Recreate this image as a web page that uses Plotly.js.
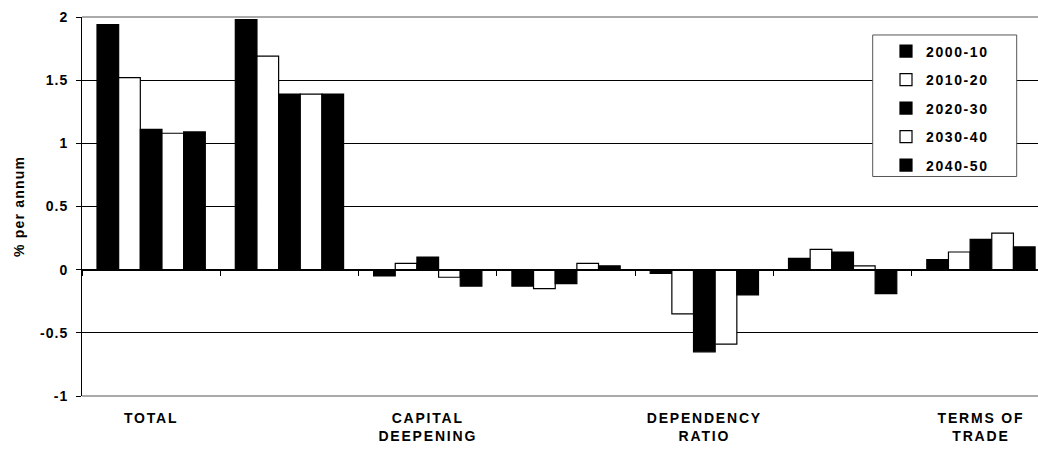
<!DOCTYPE html>
<html>
<head>
<meta charset="utf-8">
<script src="https://cdn.plot.ly/plotly-3.0.1.min.js"></script>
<style>
  html, body { margin: 0; padding: 0; background: #fff; }
  #chart { width: 1038px; height: 450px; }
  .xtick text { letter-spacing: 1.8px; }
  .ytick text { letter-spacing: 1px; }
  .ytitle { letter-spacing: 1.2px; }
  .legendtext { letter-spacing: 1.6px; }
</style>
</head>
<body>
<div id="chart"></div>
<script>
// Category positions along the x axis and the labels shown under them
const categoryPos = [0, 1, 2, 3, 4, 5, 6];
const categoryLabels = ['TOTAL', '', 'CAPITAL<br>DEEPENING', '', 'DEPENDENCY<br>RATIO', '', 'TERMS OF<br>TRADE'];

// Decade series, % per annum
const seriesNames = ['2000-10', '2010-20', '2020-30', '2030-40', '2040-50'];
const s2000_10 = [1.94, 1.98, -0.05, -0.13, -0.03, 0.09, 0.08];
const s2010_20 = [1.52, 1.69, 0.05, -0.15, -0.35, 0.16, 0.14];
const s2020_30 = [1.11, 1.39, 0.10, -0.11, -0.65, 0.14, 0.24];
const s2030_40 = [1.08, 1.39, -0.06, 0.05, -0.59, 0.03, 0.29];
const s2040_50 = [1.09, 1.39, -0.13, 0.03, -0.20, -0.19, 0.18];
const seriesValues = [s2000_10, s2010_20, s2020_30, s2030_40, s2040_50];
const seriesFill = ['#000000', '#ffffff', '#000000', '#ffffff', '#000000'];

// Value axis ticks
const yTickVals = [-1, -0.5, 0, 0.5, 1, 1.5, 2];
const yTickText = ['-1', '-0.5', '0', '0.5', '1', '1.5', '2'];

// Category boundaries, where the small ticks sit on the zero line
const boundaryVals = [-0.5, 0.5, 1.5, 2.5, 3.5, 4.5, 5.5, 6.5];

const FONT = 'Arial, "Liberation Sans", sans-serif';

const traces = seriesNames.map((name, i) => ({
  type: 'bar',
  name: name,
  x: categoryPos,
  y: seriesValues[i],
  legendgroup: 'g' + i,
  marker: { color: seriesFill[i], line: { color: '#000', width: 1.2 } },
  hoverinfo: 'name+y'
}));

// empty trace so the zero-line tick axis is drawn
traces.push({
  type: 'scatter', x: [], y: [], xaxis: 'x2', yaxis: 'y',
  showlegend: false, hoverinfo: 'skip'
});

// plot area in pixels
const L = 82, T = 17, B = 396.5, W = 1038 - L, H = B - T;
const catPx = 138.3;
const px = v => (v - L) / W;          // pixel x -> paper x
const py = v => (B - v) / H;          // pixel y -> paper y

const yMin = yTickVals[0], yMax = yTickVals[yTickVals.length - 1];

// frame lines along the bottom and top edges of the plot area
const edgeLines = [0, 1].map(p => ({
  type: 'line', xref: 'paper', yref: 'paper', layer: 'above',
  x0: 0, x1: 1, y0: p, y1: p,
  line: { color: '#555', width: 1 }
}));

const layout = {
  width: 1038,
  height: 450,
  margin: { l: L, r: 0, t: T, b: 450 - B },
  paper_bgcolor: '#fff',
  plot_bgcolor: '#fff',
  font: { family: FONT, color: '#000', size: 13 },
  barmode: 'group',
  bargap: 0.217,
  bargroupgap: 0,
  showlegend: true,
  legend: {
    x: px(886),
    xanchor: 'left',
    y: py(35.5),
    yanchor: 'top',
    bgcolor: 'rgba(0,0,0,0)',
    borderwidth: 0,
    traceorder: 'grouped',
    tracegroupgap: 7.3,
    itemwidth: 30,
    font: { family: FONT, size: 14, color: '#000', weight: 'bold' }
  },
  shapes: edgeLines.concat([
    {
      // legend frame
      type: 'rect', xref: 'paper', yref: 'paper', layer: 'above',
      x0: px(872.7), x1: px(1016.7), y0: py(176.7), y1: py(35),
      fillcolor: '#fff', line: { color: '#555', width: 1 }
    }
  ]),
  xaxis: {
    range: [-0.5, -0.5 + W / catPx],
    tickvals: categoryPos,
    ticktext: categoryLabels,
    ticks: '',
    showline: false,
    showgrid: false,
    zeroline: false,
    ticklabelstandoff: 12,
    tickfont: { family: FONT, size: 14, color: '#000', weight: 'bold' },
    fixedrange: true
  },
  xaxis2: {
    overlaying: 'x',
    matches: 'x',
    anchor: 'free',
    position: 1 / 3,
    side: 'bottom',
    tickvals: boundaryVals,
    ticks: 'outside',
    ticklen: 5,
    tickcolor: '#000',
    tickwidth: 1,
    showticklabels: false,
    showline: true,
    linecolor: '#000',
    linewidth: 1,
    showgrid: false,
    zeroline: false
  },
  yaxis: {
    range: [yMin, yMax],
    tickvals: yTickVals,
    ticktext: yTickText,
    ticks: 'outside',
    ticklen: 5,
    tickcolor: '#000',
    showline: true,
    linecolor: '#000',
    linewidth: 1,
    showgrid: true,
    gridcolor: '#000',
    gridwidth: 1,
    zeroline: false,
    ticklabelstandoff: 5,
    tickfont: { family: FONT, size: 14, color: '#000', weight: 'bold' },
    title: {
      text: '% per annum',
      standoff: 12,
      font: { family: FONT, size: 14, color: '#000', weight: 'bold' }
    },
    automargin: false,
    fixedrange: true
  }
};

Plotly.newPlot('chart', traces, layout, { displayModeBar: false, staticPlot: true });
</script>
</body>
</html>
